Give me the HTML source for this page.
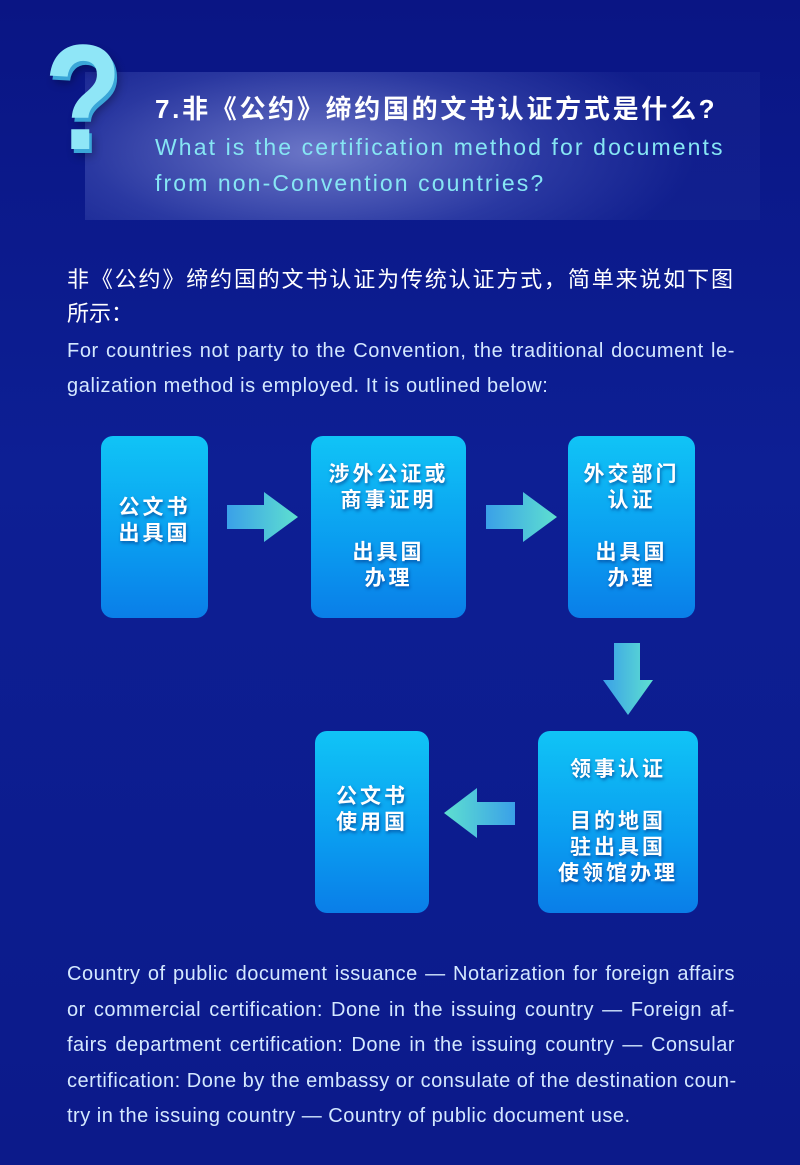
<!DOCTYPE html>
<html><head><meta charset="utf-8"><style>
*{margin:0;padding:0;box-sizing:border-box}
body{width:800px;height:1165px;overflow:hidden;background:linear-gradient(180deg,#0a1584 0%,#0d1f94 40%,#0c1a8a 100%);font-family:"Liberation Sans","Noto Sans CJK SC",sans-serif;position:relative}
.band{position:absolute;left:85px;top:72px;width:675px;height:148px;background:radial-gradient(ellipse 380px 140px at 230px 80px,rgba(140,150,220,0.75),rgba(80,95,190,0.45) 60%,rgba(30,45,150,0.3) 100%)}
.q{position:absolute;left:44px;top:22px;font-size:150px;font-weight:bold;color:#8fe6f7;line-height:1;text-shadow:3px 4px 0 #3aa6d8,5px 7px 10px rgba(0,0,0,0.3);transform:scaleX(0.85);transform-origin:left top}
.j{display:block;text-align:justify;text-align-last:justify;white-space:nowrap}
.l{display:block;white-space:nowrap}
.t1{position:absolute;left:155px;top:90px;font-size:26px;font-weight:bold;color:#fff;line-height:38px;letter-spacing:2.7px;white-space:nowrap}
.t2{position:absolute;left:155px;top:129px;font-size:23px;color:#86e6f4;line-height:36px;letter-spacing:2.1px}
.p1{position:absolute;left:67px;top:263px;font-size:22px;color:#fff;line-height:34px}
.p2{position:absolute;left:67px;top:334px;font-size:20px;color:#d4e8ff;line-height:35px;letter-spacing:0.6px}
.box{position:absolute;border-radius:12px;background:linear-gradient(180deg,#10c4f6 0%,#0a9cf0 60%,#0a7ee8 100%);color:#fff;font-weight:bold;font-size:21px;line-height:26px;text-align:center;letter-spacing:3px;text-shadow:1px 2px 3px rgba(0,40,120,0.6);display:flex;flex-direction:column;justify-content:center}
.p3{position:absolute;left:67px;top:957px;font-size:20px;color:#d4e8ff;line-height:35.5px;letter-spacing:0.5px}
</style></head><body>
<div class="band"></div>
<div class="q">?</div>
<div class="t1">7.非《公约》缔约国的文书认证方式是什么?</div>
<div class="t2"><span class="l">What is the certification method for documents</span><span class="l">from non-Convention countries?</span></div>
<div class="p1"><span class="j" style="width:666px">非《公约》缔约国的文书认证为传统认证方式，简单来说如下图</span><span class="l">所示：</span></div>
<div class="p2"><span class="j" style="width:668px">For countries not party to the Convention, the traditional document le-</span><span class="l">galization method is employed. It is outlined below:</span></div>

<div class="box" style="left:101px;top:436px;width:107px;height:182px;padding-bottom:12px">公文书<br>出具国</div>
<div class="box" style="left:311px;top:436px;width:155px;height:182px">涉外公证或<br>商事证明<br><br>出具国<br>办理</div>
<div class="box" style="left:568px;top:436px;width:127px;height:182px">外交部门<br>认证<br><br>出具国<br>办理</div>
<div class="box" style="left:315px;top:731px;width:114px;height:182px;padding-bottom:24px">公文书<br>使用国</div>
<div class="box" style="left:538px;top:731px;width:160px;height:182px">领事认证<br><br>目的地国<br>驻出具国<br>使领馆办理</div>

<svg width="800" height="1165" style="position:absolute;left:0;top:0">
<defs>
<linearGradient id="gh" x1="0" x2="1" y1="0" y2="0"><stop offset="0" stop-color="#3aa0e8"/><stop offset="1" stop-color="#5ee0d0"/></linearGradient>
<linearGradient id="gl" x1="1" x2="0" y1="0" y2="0"><stop offset="0" stop-color="#3aa0e8"/><stop offset="1" stop-color="#5ee0d0"/></linearGradient>
</defs>
<polygon fill="url(#gh)" points="227,505 264,505 264,492 298,517 264,542 264,529 227,529"/>
<polygon fill="url(#gh)" points="486,505 523,505 523,492 557,517 523,542 523,529 486,529"/>
<polygon fill="url(#gh)" points="614,643 640,643 640,680 653,680 628,715 603,680 614,680"/>
<polygon fill="url(#gl)" points="515,802 477,802 477,788 444,813 477,838 477,825 515,825"/>
</svg>

<div class="p3"><span class="j" style="width:668px">Country of public document issuance — Notarization for foreign affairs</span><span class="j" style="width:668px">or commercial certification: Done in the issuing country — Foreign af-</span><span class="j" style="width:668px">fairs department certification: Done in the issuing country — Consular</span><span class="j" style="width:668px">certification: Done by the embassy or consulate of the destination coun-</span><span class="l">try in the issuing country — Country of public document use.</span></div>
</body></html>
